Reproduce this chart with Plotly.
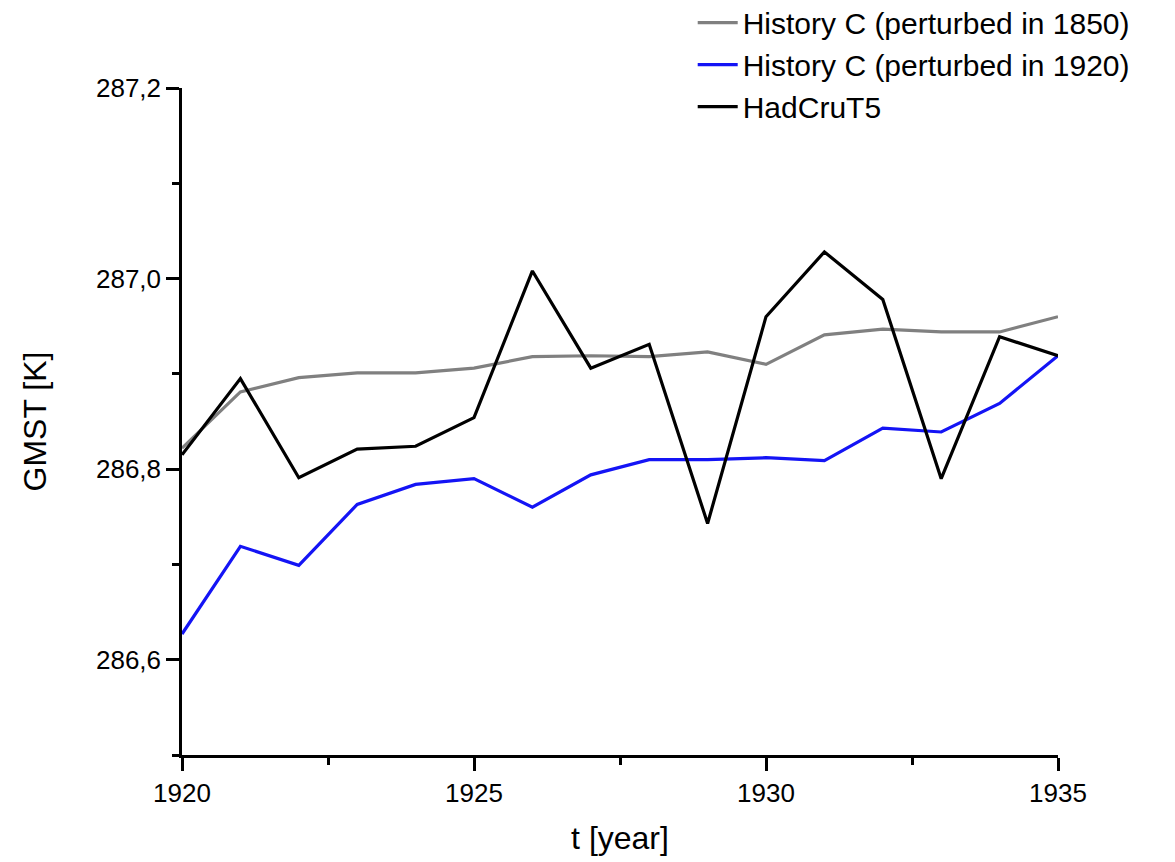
import plotly.graph_objects as go

years = list(range(1920, 1936))
hist_1850 = [286.822, 286.881, 286.896, 286.901, 286.901, 286.906, 286.918, 286.919,
             286.918, 286.923, 286.910, 286.941, 286.947, 286.944, 286.944, 286.960]
hist_1920 = [286.627, 286.719, 286.699, 286.763, 286.784, 286.790, 286.760, 286.794,
             286.810, 286.810, 286.812, 286.809, 286.843, 286.839, 286.869, 286.919]
hadcrut5 = [286.815, 286.895, 286.791, 286.821, 286.824, 286.854, 287.008, 286.906,
            286.931, 286.743, 286.960, 287.028, 286.978, 286.790, 286.939, 286.919]

series_names = ["History C (perturbed in 1850)", "History C (perturbed in 1920)", "HadCruT5"]
series_colors = ["#808080", "#1414f5", "#000000"]

fig = go.Figure()
for name, vals, col in zip(series_names, [hist_1850, hist_1920, hadcrut5], series_colors):
    fig.add_trace(go.Scatter(x=years, y=vals, mode="lines", name=name,
                             line=dict(color=col, width=3.2)))

font_family = "Liberation Sans, Arial, sans-serif"

fig.update_layout(
    width=1175, height=862,
    margin=dict(l=182, r=117, t=88, b=107, autoexpand=False),
    paper_bgcolor="white", plot_bgcolor="white",
    separators=",.",
    font=dict(family=font_family, size=26, color="black"),
    showlegend=True,
    legend=dict(x=0.583, y=1.137, xanchor="left", yanchor="top",
                font=dict(size=30, family=font_family, color="black"),
                bgcolor="rgba(0,0,0,0)", borderwidth=0,
                itemwidth=40),
)

fig.update_xaxes(
    range=[1920, 1935], tickvals=[1920, 1925, 1930, 1935],
    ticktext=["1920", "1925", "1930", "1935"],
    showgrid=False, zeroline=False,
    showline=True, linecolor="black", linewidth=2.5,
    ticks="outside", ticklen=13, tickwidth=2.5, tickcolor="black",
    minor=dict(tickvals=[1922.5, 1927.5, 1932.5], ticks="outside", ticklen=7,
               tickwidth=2.5, tickcolor="black", showgrid=False),
    tickfont=dict(size=26),
    title=dict(text="t [year]", font=dict(size=32), standoff=20),
    automargin=False,
)

fig.update_yaxes(
    range=[286.5, 287.2], tickvals=[286.6, 286.8, 287.0, 287.2],
    tickformat=".1f",
    showgrid=False, zeroline=False,
    showline=True, linecolor="black", linewidth=2.5,
    ticks="outside", ticklen=13, tickwidth=2.5, tickcolor="black",
    minor=dict(tickvals=[286.5, 286.7, 286.9, 287.1], ticks="outside", ticklen=7,
               tickwidth=2.5, tickcolor="black", showgrid=False),
    tickfont=dict(size=26),
    title=dict(text="GMST [K]", font=dict(size=32), standoff=40),
    automargin=False,
)

fig.write_html("out.html")
